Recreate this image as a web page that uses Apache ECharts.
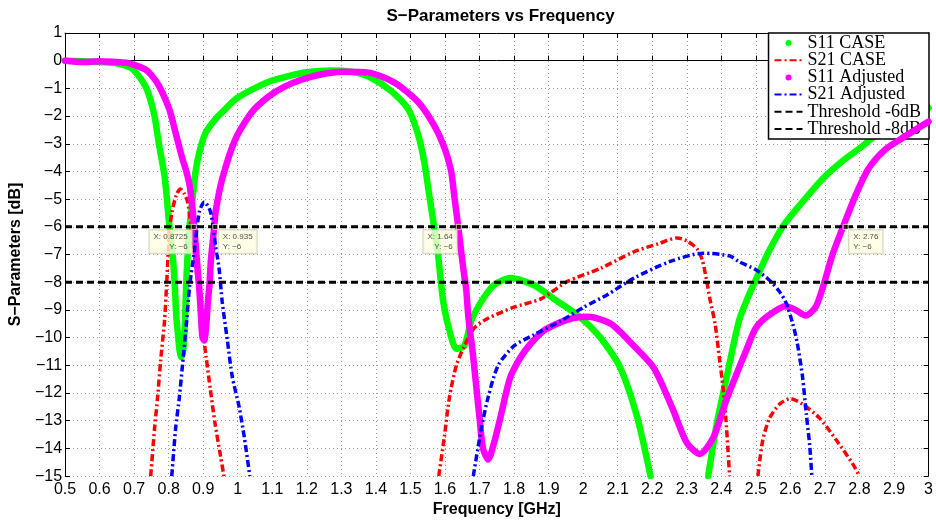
<!DOCTYPE html>
<html><head><meta charset="utf-8">
<script src="https://cdn.jsdelivr.net/npm/echarts@6/dist/echarts.min.js"></script>
<style>html,body{margin:0;padding:0;background:#fff}#c{width:936px;height:523px}</style>
</head><body><div id="c"></div><script>
// ---------- data ----------
const s11CaseX1 = [0.50,0.55,0.60,0.65,0.69,0.71,0.733,0.747,0.759,0.773,0.788,0.795,0.80,0.806,0.813,0.818,0.822,0.827,0.831,0.836,0.842,0.846,0.849,0.852,0.855,0.858,0.862,0.869,0.878,0.889,0.907,0.936,0.96,0.993,1.042,1.09,1.15,1.20,1.27,1.33,1.38,1.445,1.494,1.523,1.54,1.555,1.566,1.58,1.587,1.595,1.61,1.633,1.656,1.676,1.705,1.742,1.79,1.857,1.915,1.985,2.05,2.108,2.157,2.195];
const s11CaseY1 = [0,-0.02,-0.05,-0.1,-0.25,-0.5,-0.93,-1.4,-2.0,-3.09,-4.16,-5.0,-5.7,-6.4,-7.24,-8.2,-9.2,-9.9,-10.4,-10.7,-10.5,-9.8,-8.75,-7.7,-7.0,-6.3,-5.8,-5.0,-4.0,-3.3,-2.6,-2.1,-1.8,-1.4,-1.04,-0.76,-0.55,-0.42,-0.35,-0.4,-0.58,-1.1,-1.76,-2.7,-3.66,-4.9,-5.8,-7.0,-7.85,-8.7,-9.6,-10.4,-10.3,-9.4,-8.7,-8.1,-7.85,-8.1,-8.6,-9.2,-10.0,-11.1,-12.9,-15];
const s11CaseX2 = [2.362,2.387,2.416,2.451,2.48,2.506,2.537,2.58,2.635,2.693,2.751,2.808,2.846,2.90,2.96,3.0];
const s11CaseY2 = [-15,-13.1,-11.4,-9.4,-8.46,-7.74,-6.9,-5.95,-5.1,-4.27,-3.62,-3.09,-2.7,-2.3,-1.95,-1.7];

const s21CaseX1 = [0.748,0.759,0.768,0.777,0.788,0.794,0.802,0.81,0.822,0.834,0.845,0.855,0.864,0.8755,0.886,0.8968,0.9085,0.921,0.9343,0.9505,0.96];
const s21CaseY1 = [-15,-13.3,-12.15,-10.8,-9.4,-8.1,-6.2,-5.45,-4.85,-4.63,-4.8,-5.1,-5.95,-7.1,-8.3,-9.5,-10.7,-11.9,-13.1,-14.3,-15];
const s21CaseX2 = [1.582,1.598,1.613,1.633,1.656,1.685,1.725,1.80,1.878,1.955,2.05,2.147,2.22,2.272,2.30,2.33,2.345,2.357,2.367,2.382,2.395,2.405,2.413,2.419,2.424];
const s21CaseY2 = [-15,-13.6,-12.15,-11.0,-10.3,-9.65,-9.3,-8.9,-8.6,-7.97,-7.5,-6.9,-6.6,-6.4,-6.5,-6.8,-7.2,-7.9,-8.6,-9.5,-10.8,-11.8,-12.9,-14.0,-15];
const s21CaseX3 = [2.506,2.52,2.54,2.569,2.60,2.635,2.684,2.733,2.78,2.80];
const s21CaseY3 = [-15,-13.7,-12.9,-12.4,-12.2,-12.4,-12.9,-13.7,-14.55,-15];

const s11AdjX = [0.50,0.55,0.60,0.65,0.676,0.70,0.734,0.755,0.773,0.802,0.82,0.84,0.85,0.86,0.866,0.874,0.883,0.889,0.894,0.898,0.903,0.909,0.913,0.918,0.922,0.927,0.932,0.936,0.955,0.993,1.04,1.09,1.137,1.186,1.24,1.30,1.38,1.455,1.523,1.57,1.60,1.618,1.627,1.638,1.647,1.654,1.661,1.668,1.68,1.69,1.70,1.71,1.725,1.742,1.762,1.79,1.83,1.886,1.955,2.013,2.08,2.147,2.205,2.26,2.30,2.338,2.377,2.416,2.474,2.50,2.537,2.586,2.615,2.644,2.673,2.696,2.722,2.754,2.788,2.826,2.875,2.932,3.0];
const s11AdjY = [0,-0.05,-0.02,-0.05,-0.07,-0.15,-0.33,-0.6,-0.93,-1.76,-2.6,-3.55,-3.95,-4.45,-5.0,-6.0,-7.4,-8.3,-9.3,-10.0,-10.1,-9.5,-8.8,-8.1,-7.25,-6.6,-6.0,-5.45,-4.27,-2.84,-1.87,-1.29,-0.93,-0.68,-0.5,-0.4,-0.43,-0.8,-1.5,-2.37,-3.2,-4.0,-4.9,-5.95,-6.9,-7.6,-8.2,-9.3,-10.5,-11.7,-12.9,-14.0,-14.4,-13.8,-12.8,-11.4,-10.5,-9.75,-9.35,-9.25,-9.5,-10.3,-11.1,-12.6,-13.8,-14.2,-13.6,-12.2,-10.4,-9.65,-9.2,-8.87,-9.0,-9.2,-8.9,-8.1,-7.0,-5.95,-4.88,-3.9,-3.2,-2.73,-2.2];

const s21AdjX1 = [0.809,0.82,0.831,0.84,0.852,0.861,0.874,0.889,0.903,0.921,0.936,0.946,0.955,0.97,0.984,1.004,1.019,1.035];
const s21AdjY1 = [-15,-13.3,-12.15,-11.0,-9.4,-8.1,-6.9,-5.45,-5.1,-5.45,-6.7,-7.5,-8.7,-10.1,-11.4,-12.5,-13.6,-15];
const s21AdjX2 = [1.682,1.705,1.725,1.754,1.80,1.857,1.935,2.002,2.07,2.147,2.252,2.347,2.425,2.45,2.50,2.537,2.566,2.586,2.607,2.62,2.635,2.646,2.656,2.662];
const s21AdjY2 = [-15,-13.3,-12.15,-11.0,-10.3,-9.9,-9.4,-8.9,-8.45,-7.85,-7.25,-6.95,-7.05,-7.25,-7.55,-7.9,-8.3,-8.7,-9.5,-10.2,-11.4,-12.75,-13.9,-15];

const thresholdX = [0.5, 3.0];
const threshold6 = [-6, -6];
const threshold8 = [-8, -8];

const tipX = [0.8725, 0.935, 1.64, 2.76];
const tipY = [-6, -6, -6, -6];
const tipXLabels = ['0.8725', '0.935', '1.64', '2.76'];

const xMin = 0.5, xMax = 3, xStep = 0.1;
const yMin = -15, yMax = 1, yStep = 1;

// ---------- build ----------
const zip = (xs, ys) => xs.map((x, i) => [x, ys[i]]);
const MINUS = '\u2212';
const fmtY = v => (v < 0 ? MINUS + Math.abs(v) : String(v));

const GREEN = '#00ff00', MAGENTA = '#ff00ff', RED = '#ff0000', BLUE = '#0000ff';
const dashDot = [7, 3, 2, 3];

function s11(name, data, color, z) {
  return { name, type: 'line', data, showSymbol: false, symbol: 'none', smooth: 0.25,
    lineStyle: { color, width: 6.5, cap: 'round', join: 'round' }, itemStyle: { color }, z, animation: false, clip: true };
}
function s21(name, data, color, z) {
  return { name, type: 'line', data, showSymbol: false, symbol: 'none', smooth: 0.25,
    lineStyle: { color, width: 3.5, type: dashDot }, itemStyle: { color }, z, animation: false, clip: true };
}

const tipSeries = {
  type: 'scatter', z: 20, animation: false, symbol: 'rect', symbolSize: 5,
  itemStyle: { color: '#000', borderColor: '#fff8c0', borderWidth: 1 },
  data: tipX.map((x, i) => {
    const leftSide = (i % 2 === 0);
    return {
      value: [x, tipY[i]],
      label: {
        show: true,
        position: leftSide ? [1, 6.5] : [6.5, 6.5],
        align: leftSide ? 'right' : 'left',
        verticalAlign: 'top',
        formatter: 'X: ' + tipXLabels[i] + '\nY: ' + fmtY(tipY[i]),
        fontFamily: 'Liberation Sans, Arial, sans-serif', fontSize: 8, lineHeight: 9.5, color: '#222',
        backgroundColor: '#ffffe1', borderColor: '#c8c8b4', borderWidth: 1, padding: [2, 4, 2, 4]
      }
    };
  })
};

const axisFont = { fontFamily: 'Liberation Sans, Arial, sans-serif', fontSize: 16, color: '#000' };
const splitLine = { show: true, lineStyle: { color: '#9a9a9a', width: 1, type: [1, 3] } };

const option = {
  animation: false,
  backgroundColor: '#fff',
  title: {
    text: 'S\u2212Parameters vs Frequency', left: 495.5, top: 3, textAlign: 'center',
    textStyle: { fontFamily: 'Liberation Sans, Arial, sans-serif', fontWeight: 'bold', fontSize: 17, color: '#000' }
  },
  grid: { left: 62, right: 7, top: 33, bottom: 44, containLabel: false },
  legend: {
    orient: 'vertical', right: 7, top: 33, selectedMode: false,
    backgroundColor: '#fff', borderColor: '#000', borderWidth: 1.5, padding: [1, 8, 1, 5],
    itemWidth: 28, itemHeight: 6, itemGap: -0.8, itemTextGap: 4,
    itemStyle: { opacity: 0 },
    textStyle: { fontFamily: 'Liberation Serif, Times New Roman, serif', fontSize: 18, lineHeight: 16.5, color: '#000' },
    data: [
      { name: 'S11 CASE', icon: 'circle', itemStyle: { opacity: 1 } },
      { name: 'S21 CASE' },
      { name: 'S11 Adjusted', icon: 'circle', itemStyle: { opacity: 1 } },
      { name: 'S21 Adjusted' },
      { name: 'Threshold -6dB' },
      { name: 'Threshold -8dB' }
    ]
  },
  xAxis: [
    { type: 'value', min: xMin, max: xMax, interval: xStep, position: 'bottom',
      name: 'Frequency [GHz]', nameLocation: 'middle', nameGap: 22,
      nameTextStyle: { fontFamily: 'Liberation Sans, Arial, sans-serif', fontWeight: 'bold', fontSize: 16, color: '#000' },
      axisLine: { show: true, lineStyle: { color: '#000', width: 1 } },
      axisTick: { show: true, inside: true, length: 5, lineStyle: { color: '#000' } },
      axisLabel: Object.assign({ margin: 5, formatter: v => String(+(+v).toFixed(2)) }, axisFont),
      splitLine },
    { type: 'value', min: xMin, max: xMax, interval: xStep, position: 'top',
      axisLine: { show: true, onZero: false, lineStyle: { color: '#000', width: 1 } },
      axisTick: { show: true, inside: true, length: 5, lineStyle: { color: '#000' } },
      axisLabel: { show: false }, splitLine: { show: false } }
  ],
  yAxis: [
    { type: 'value', min: yMin, max: yMax, interval: yStep, position: 'left',
      name: 'S\u2212Parameters [dB]', nameLocation: 'middle', nameGap: 28, nameRotate: 90,
      nameTextStyle: { fontFamily: 'Liberation Sans, Arial, sans-serif', fontWeight: 'bold', fontSize: 16, color: '#000' },
      axisLine: { show: true, onZero: false, lineStyle: { color: '#000', width: 1 } },
      axisTick: { show: true, inside: true, length: 5, lineStyle: { color: '#000' } },
      axisLabel: Object.assign({ margin: 3, formatter: fmtY }, axisFont),
      splitLine },
    { type: 'value', min: yMin, max: yMax, interval: yStep, position: 'right',
      axisLine: { show: true, onZero: false, lineStyle: { color: '#000', width: 1 } },
      axisTick: { show: true, inside: true, length: 5, lineStyle: { color: '#000' } },
      axisLabel: { show: false }, splitLine: { show: false } }
  ],
  series: [
    s11('S11 CASE', zip(s11CaseX1, s11CaseY1), GREEN, 2),
    s11('S11 CASE', zip(s11CaseX2, s11CaseY2), GREEN, 2),
    s21('S21 CASE', zip(s21CaseX1, s21CaseY1), RED, 3),
    s21('S21 CASE', zip(s21CaseX2, s21CaseY2), RED, 3),
    s21('S21 CASE', zip(s21CaseX3, s21CaseY3), RED, 3),
    s11('S11 Adjusted', zip(s11AdjX, s11AdjY), MAGENTA, 4),
    s21('S21 Adjusted', zip(s21AdjX1, s21AdjY1), BLUE, 5),
    s21('S21 Adjusted', zip(s21AdjX2, s21AdjY2), BLUE, 5),
    { name: 'Threshold -6dB', type: 'line', data: zip(thresholdX, threshold6), symbol: 'none', showSymbol: false, z: 6,
      lineStyle: { color: '#000', width: 3, type: [7, 4] }, itemStyle: { color: '#000' } },
    { name: 'Threshold -8dB', type: 'line', data: zip(thresholdX, threshold8), symbol: 'none', showSymbol: false, z: 6,
      lineStyle: { color: '#000', width: 3, type: [7, 4] }, itemStyle: { color: '#000' } },
    tipSeries
  ]
};

const chart = echarts.init(document.getElementById('c'), null, { renderer: 'canvas' });
chart.setOption(option);
</script></body></html>
